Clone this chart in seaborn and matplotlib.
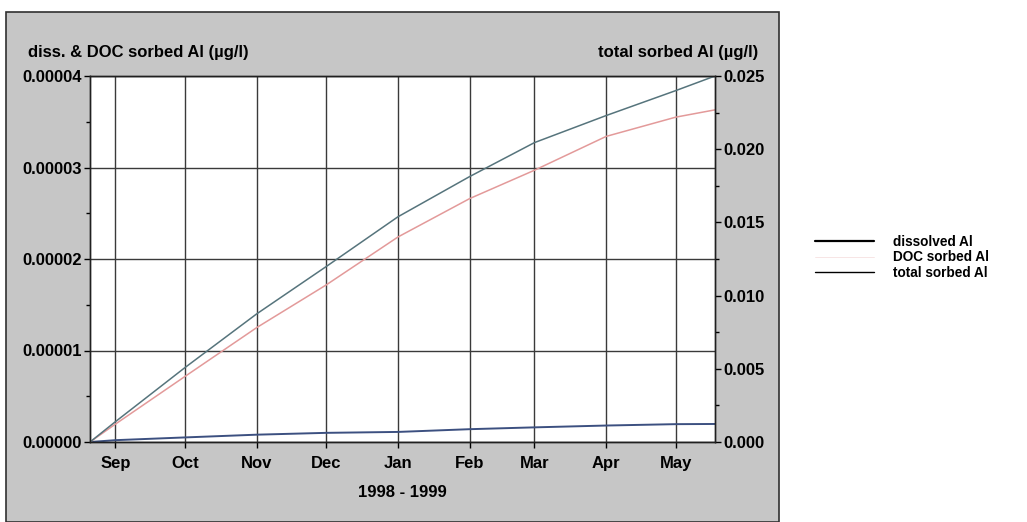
import matplotlib
matplotlib.use("Agg")
import matplotlib.pyplot as plt
import matplotlib.dates as mdates
import matplotlib.ticker as mticker
from matplotlib.patches import Rectangle
from matplotlib.lines import Line2D
import pandas as pd
import seaborn as sns

# --- data -----------------------------------------------------------------
dates = ["1998-08-21", "1998-09-01", "1998-10-01", "1998-11-01", "1998-12-01",
         "1999-01-01", "1999-02-01", "1999-03-01", "1999-04-01", "1999-05-01",
         "1999-05-18"]
dissolved_al = [0.0, 0.0000002, 0.0000005, 0.0000008, 0.0000010, 0.0000011,
                0.0000014, 0.0000016, 0.0000018, 0.00000195, 0.00000197]
doc_sorbed_al = [0.0, 0.00000196, 0.00000716, 0.0000125, 0.00001716, 0.0000224,
                 0.0000266, 0.0000297, 0.0000334, 0.0000355, 0.0000363]
total_sorbed_al = [0.0, 0.00139, 0.00508, 0.00875, 0.01198, 0.01538,
                   0.01813, 0.02045, 0.0223, 0.0240, 0.0250]

left_label = "diss. & DOC sorbed Al (µg/l)"
right_label = "total sorbed Al (µg/l)"
x_label = "1998 - 1999"
series_names = ["dissolved Al", "DOC sorbed Al", "total sorbed Al"]

df = pd.DataFrame({
    "date": pd.to_datetime(dates),
    "dissolved": dissolved_al,
    "doc": doc_sorbed_al,
    "total": total_sorbed_al,
})

# --- style ----------------------------------------------------------------
sns.set_theme(style="ticks")
plt.rcParams["font.family"] = ["Liberation Sans", "DejaVu Sans"]
plt.rcParams["font.weight"] = "bold"
plt.rcParams["text.color"] = "black"
plt.rcParams["axes.labelcolor"] = "black"
plt.rcParams["xtick.color"] = "black"
plt.rcParams["ytick.color"] = "black"

FS = 12
W, H = 1027, 522
fig = plt.figure(figsize=(W / 100, H / 100), dpi=100)
fig.patch.set_facecolor("white")

# grey chart panel
panel = Rectangle((6 / W, 0), (779 - 6) / W, (522 - 12) / H,
                  transform=fig.transFigure, facecolor="#c6c6c6",
                  edgecolor="#303030", linewidth=1.2, zorder=0)
fig.patches.append(panel)

ax = fig.add_axes([90 / W, 1 - 442 / H, (715 - 90) / W, (442 - 76) / H])
ax.set_facecolor("white")
ax.set_zorder(1)

c_diss = "#3c5080"
c_doc = "#e39a9a"
c_total = "#56747c"

sns.lineplot(data=df, x="date", y="dissolved", ax=ax, color=c_diss,
             linewidth=1.4, legend=False)
sns.lineplot(data=df, x="date", y="doc", ax=ax, color=c_doc,
             linewidth=1.1, legend=False)

ax.set_ylim(0, 0.00004)
ax.set_xlim(pd.Timestamp("1998-08-21"), pd.Timestamp("1999-05-18"))
ax.yaxis.set_major_locator(mticker.MultipleLocator(0.00001))
ax.yaxis.set_minor_locator(mticker.MultipleLocator(0.000005))
ax.yaxis.set_major_formatter(mticker.FormatStrFormatter("%.5f"))
ax.xaxis.set_major_locator(mdates.MonthLocator())
ax.xaxis.set_major_formatter(mdates.DateFormatter("%b"))
ax.grid(True, which="major", color="#3a3a3a", linewidth=1.0)
ax.set_ylabel("")
ax.set_xlabel(x_label, fontsize=FS, fontweight="bold", labelpad=10,
              color="black")
ax.tick_params(axis="both", which="major", direction="out", length=4,
               width=1, labelsize=FS, colors="black", pad=2)
ax.tick_params(axis="x", pad=6)
ax.tick_params(axis="y", which="minor", direction="out", length=3, width=1)
for s in ax.spines.values():
    s.set_color("#202020")
    s.set_linewidth(1.0)

ax2 = ax.twinx()
sns.lineplot(data=df, x="date", y="total", ax=ax2, color=c_total,
             linewidth=1.1, legend=False)
ax2.set_ylim(0, 0.025)
ax2.yaxis.set_major_locator(mticker.MultipleLocator(0.005))
ax2.yaxis.set_minor_locator(mticker.MultipleLocator(0.0025))
ax2.yaxis.set_major_formatter(mticker.FormatStrFormatter("%.3f"))
ax2.set_ylabel("")
ax2.tick_params(axis="y", which="major", direction="out", length=4, width=1,
                labelsize=FS, colors="black", pad=2)
ax2.tick_params(axis="y", which="minor", direction="out", length=3, width=1)
for s in ax2.spines.values():
    s.set_color("#202020")
    s.set_linewidth(1.0)

for lab in ax.get_xticklabels() + ax.get_yticklabels() + ax2.get_yticklabels():
    lab.set_fontweight("bold")
    lab.set_color("black")

fig.text(28 / W, 1 - 52 / H, left_label, fontsize=FS, fontweight="bold",
         ha="left", va="center", color="black")
fig.text(758 / W, 1 - 52 / H, right_label, fontsize=FS, fontweight="bold",
         ha="right", va="center", color="black")

handles = [Line2D([], [], color="black", linewidth=1.6),
           Line2D([], [], color=c_doc, linewidth=0.6, alpha=0.3),
           Line2D([], [], color="black", linewidth=1.0)]
leg = fig.legend(handles, series_names, loc="upper left",
                 bbox_to_anchor=(815 / W, 1 - 235 / H), frameon=False,
                 prop={"size": 9.8, "weight": "bold"}, handlelength=4.3,
                 handletextpad=1.45, labelspacing=0.1, borderpad=0,
                 borderaxespad=0)
for t in leg.get_texts():
    t.set_color("black")

fig.savefig("out.png", dpi=100)
